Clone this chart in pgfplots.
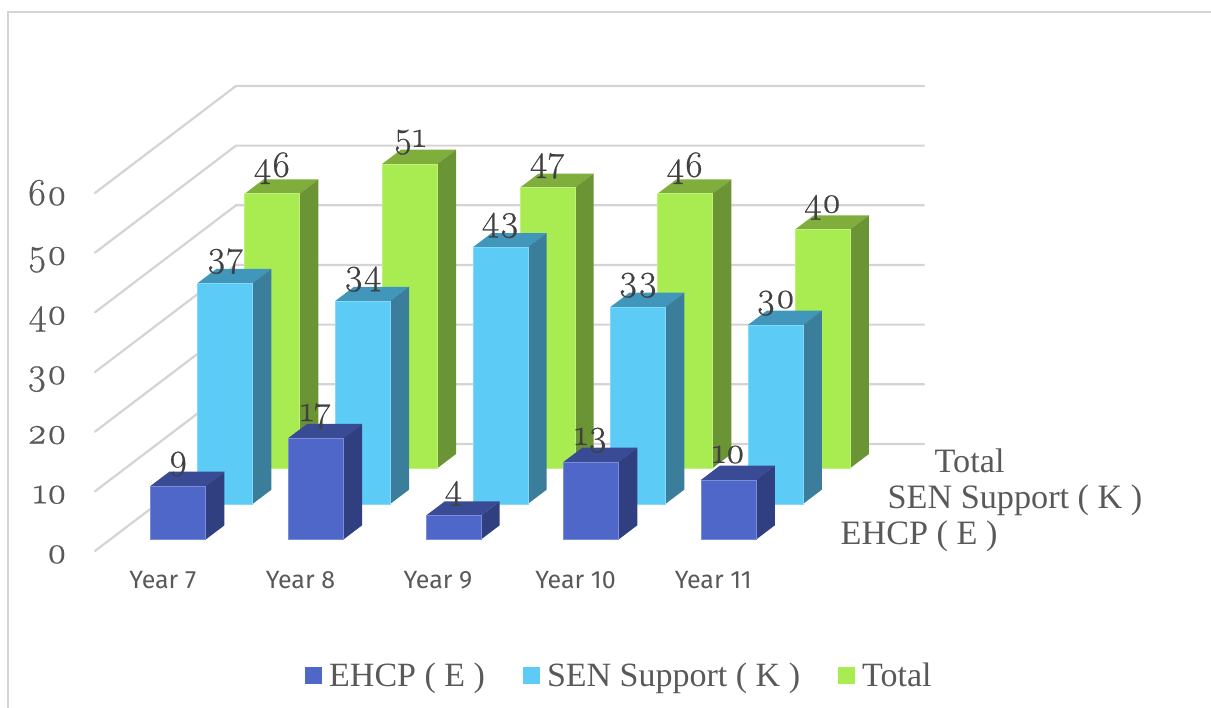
\documentclass[border=0pt]{standalone}
\usepackage{fontspec}
\usepackage{pgfplots}
\pgfplotsset{compat=1.18}
\setmainfont{Liberation Serif}
\newfontfamily\numfont[Numbers=OldStyle,FakeBold=0.6]{Latin Modern Roman}
\newfontfamily\catfont{Fira Sans}
\definecolor{gridc}{HTML}{D4D4D4}
\definecolor{txt}{HTML}{595959}
\definecolor{lab}{HTML}{404040}
\definecolor{bF}{HTML}{4F67C8}\definecolor{bS}{HTML}{2F3F80}\definecolor{bT}{HTML}{394B95}
\definecolor{cF}{HTML}{5CCBF5}\definecolor{cS}{HTML}{3A7E9C}\definecolor{cT}{HTML}{4196BC}
\definecolor{gF}{HTML}{A8EC52}\definecolor{gS}{HTML}{6B9434}\definecolor{gT}{HTML}{80AE3C}
% one 3D bar: category index, row, value, colour prefix
\newcommand\BAR[4]{%
  \pgfmathsetmacro\xa{#1+0.295}\pgfmathsetmacro\xb{#1+0.695}%
  \pgfmathsetmacro\ya{#2+0.32}\pgfmathsetmacro\yb{#2+0.72}%
  \addplot3[forget plot,fill=#4T,draw=none] coordinates {(\xa,\ya,#3)(\xb,\ya,#3)(\xb,\yb,#3)(\xa,\yb,#3)} --cycle;
  \addplot3[forget plot,fill=#4S,draw=none] coordinates {(\xb,\ya,0)(\xb,\yb,0)(\xb,\yb,#3)(\xb,\ya,#3)} --cycle;
  \addplot3[forget plot,fill=#4F,draw=#4F!75!white,line width=0.6pt] coordinates {(\xa,\ya,0)(\xb,\ya,0)(\xb,\ya,#3)(\xa,\ya,#3)} --cycle;
}
\newcommand\GRID[1]{%
  \addplot3[forget plot,gridc,line width=2.2pt,line cap=round,line join=round] coordinates {(0,0,#1)(0,3,#1)(5,3,#1)};
}
\newcommand\VAL[4]{%
  \pgfmathsetmacro\xc{#1+0.495}\pgfmathsetmacro\yc{#2+0.32}%
  \edef\tmp{\noexpand\node[anchor=base,text=lab,font=\noexpand\fontsize{37}{37}\noexpand\numfont,yshift=17pt,inner sep=0pt] at (axis cs:\xc,\yc,#3) {#3};}\tmp
}
\begin{document}
\begin{tikzpicture}[x=1pt,y=1pt]
\useasboundingbox (0,0) rectangle (1211,708);
\draw[gridc,line width=1.5pt] (8,-2) -- (8,696) -- (1213,696);
\begin{axis}[
  at={(95pt,157pt)},anchor=south west,
  x={(137.6pt,0pt)},y={(47pt,35.67pt)},z={(0pt,5.967pt)},
  xmin=0,xmax=5,ymin=0,ymax=3,zmin=0,zmax=60,
  hide axis,clip=false,
  legend columns=3,
  legend style={at={(0.6325,-0.268)},anchor=center,draw=none,fill=none,
    font=\fontsize{34}{34}\selectfont,text=txt,inner sep=0pt,
    /tikz/every even column/.append style={column sep=36pt}},
  legend image code/.code={\fill[#1,draw=none] (0pt,-8.5pt) rectangle (17pt,8.5pt);\path[draw=none,fill=none] (0pt,0pt) -- (22pt,0pt);},
]
\GRID{0}\GRID{10}\GRID{20}\GRID{30}\GRID{40}\GRID{50}\GRID{60}
% Total
\BAR{0}{2}{46}{g}\BAR{1}{2}{51}{g}\BAR{2}{2}{47}{g}\BAR{3}{2}{46}{g}\BAR{4}{2}{40}{g}
% SEN Support
\BAR{0}{1}{37}{c}\BAR{1}{1}{34}{c}\BAR{2}{1}{43}{c}\BAR{3}{1}{33}{c}\BAR{4}{1}{30}{c}
% EHCP
\BAR{0}{0}{9}{b}\BAR{1}{0}{17}{b}\BAR{2}{0}{4}{b}\BAR{3}{0}{13}{b}\BAR{4}{0}{10}{b}
\VAL{0}{2}{46}{}\VAL{1}{2}{51}{}\VAL{2}{2}{47}{}\VAL{3}{2}{46}{}\VAL{4}{2}{40}{}
\VAL{0}{1}{37}{}\VAL{1}{1}{34}{}\VAL{2}{1}{43}{}\VAL{3}{1}{33}{}\VAL{4}{1}{30}{}
\VAL{0}{0}{9}{}\VAL{1}{0}{17}{}\VAL{2}{0}{4}{}\VAL{3}{0}{13}{}\VAL{4}{0}{10}{}
% value axis labels
\node[anchor=base east,text=txt,font=\fontsize{38}{38}\numfont,xshift=-28pt,yshift=-12pt,inner sep=0pt] at (axis cs:0,0,0) {0};
\node[anchor=base east,text=txt,font=\fontsize{38}{38}\numfont,xshift=-28pt,yshift=-12pt,inner sep=0pt] at (axis cs:0,0,10) {10};
\node[anchor=base east,text=txt,font=\fontsize{38}{38}\numfont,xshift=-28pt,yshift=-12pt,inner sep=0pt] at (axis cs:0,0,20) {20};
\node[anchor=base east,text=txt,font=\fontsize{38}{38}\numfont,xshift=-28pt,yshift=-12pt,inner sep=0pt] at (axis cs:0,0,30) {30};
\node[anchor=base east,text=txt,font=\fontsize{38}{38}\numfont,xshift=-28pt,yshift=-12pt,inner sep=0pt] at (axis cs:0,0,40) {40};
\node[anchor=base east,text=txt,font=\fontsize{38}{38}\numfont,xshift=-28pt,yshift=-12pt,inner sep=0pt] at (axis cs:0,0,50) {50};
\node[anchor=base east,text=txt,font=\fontsize{38}{38}\numfont,xshift=-28pt,yshift=-12pt,inner sep=0pt] at (axis cs:0,0,60) {60};
% category labels
\node[anchor=base,text=txt,font=\fontsize{25}{25}\catfont,yshift=-38pt,xshift=-1pt,inner sep=0pt] at (axis cs:0.5,0,0) {Year 7};
\node[anchor=base,text=txt,font=\fontsize{25}{25}\catfont,yshift=-38pt,xshift=-1pt,inner sep=0pt] at (axis cs:1.5,0,0) {Year 8};
\node[anchor=base,text=txt,font=\fontsize{25}{25}\catfont,yshift=-38pt,xshift=-1pt,inner sep=0pt] at (axis cs:2.5,0,0) {Year 9};
\node[anchor=base,text=txt,font=\fontsize{25}{25}\catfont,yshift=-38pt,xshift=-1pt,inner sep=0pt] at (axis cs:3.5,0,0) {Year 10};
\node[anchor=base,text=txt,font=\fontsize{25}{25}\catfont,yshift=-38pt,xshift=-1pt,inner sep=0pt] at (axis cs:4.5,0,0) {Year 11};
% series (depth axis) labels
\node[anchor=base west,text=txt,font=\fontsize{34.2}{34}\selectfont,xshift=34pt,yshift=-11pt,inner sep=0pt] at (axis cs:5,2.5,0) {Total};
\node[anchor=base west,text=txt,font=\fontsize{34.2}{34}\selectfont,xshift=34pt,yshift=-11pt,inner sep=0pt] at (axis cs:5,1.5,0) {SEN Support ( K )};
\node[anchor=base west,text=txt,font=\fontsize{34.2}{34}\selectfont,xshift=34pt,yshift=-11pt,inner sep=0pt] at (axis cs:5,0.5,0) {EHCP ( E )};
\addlegendimage{fill=bF}\addlegendentry{EHCP ( E )}
\addlegendimage{fill=cF}\addlegendentry{SEN Support ( K )}
\addlegendimage{fill=gF}\addlegendentry{Total}
\end{axis}
\end{tikzpicture}
\end{document}
